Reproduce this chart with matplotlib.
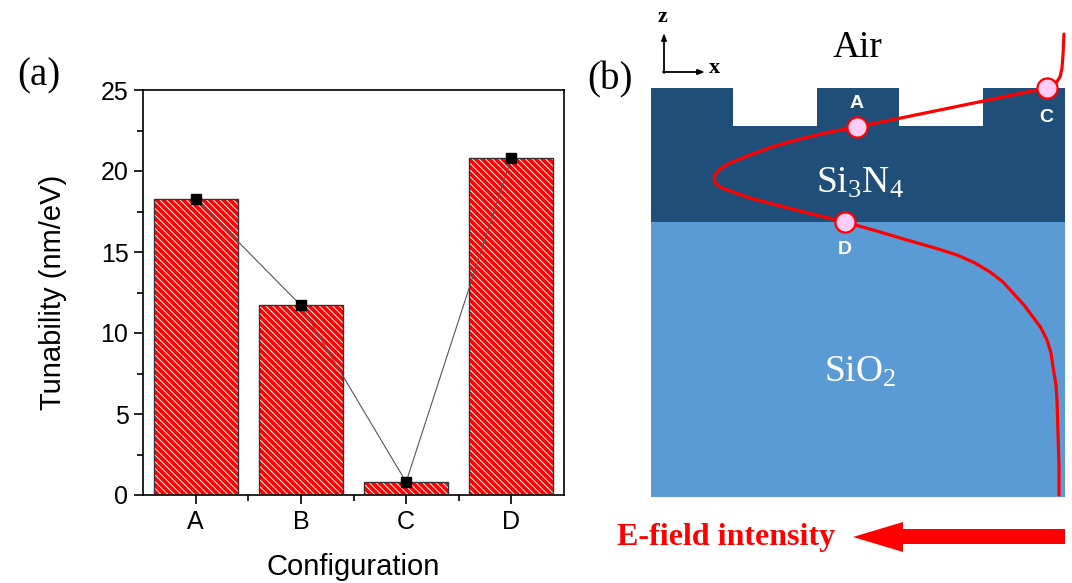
import matplotlib
matplotlib.use("Agg")
import matplotlib.pyplot as plt
from matplotlib.patches import Rectangle, Polygon

plt.rcParams["font.family"] = ["Liberation Sans", "DejaVu Sans"]
plt.rcParams["hatch.linewidth"] = 0.7
plt.rcParams["mathtext.fontset"] = "custom"
plt.rcParams["mathtext.rm"] = "Liberation Serif"
plt.rcParams["mathtext.it"] = "Liberation Serif:italic"
plt.rcParams["mathtext.bf"] = "Liberation Serif:bold"

# ---------------- data ----------------
categories = ["A", "B", "C", "D"]
tunability = [18.3, 11.7, 0.8, 20.8]

# E-field profile in panel (b) (schematic pixel units: x = intensity axis, z = depth)
field_x = [1064, 1063, 1062, 1060, 1056, 1047, 857, 830, 800, 775, 750, 730, 720, 715,
           714, 716, 722, 750, 800, 845, 880, 907, 935, 957, 975, 990, 1003, 1013,
           1024, 1033, 1041, 1047, 1051, 1053, 1056, 1057, 1058, 1059, 1059]
field_z = [34, 55, 68, 77, 83, 88, 127, 132, 139, 146, 155, 163, 169, 175,
           179, 184, 188, 198, 211, 222, 232, 240, 248, 255, 263, 272, 282, 293,
           305, 317, 328, 340, 353, 367, 385, 400, 433, 467, 495]
probe_labels = ["A", "C", "D"]
probe_x = [857, 1047, 845]
probe_z = [127, 88, 222]

W, H = 1072, 583
fig = plt.figure(figsize=(W / 100, H / 100), dpi=100)

# ---------------- panel (b) schematic ----------------
axb = fig.add_axes([0, 0, 1, 1])
axb.set_xlim(0, W)
axb.set_ylim(H, 0)
axb.axis("off")
axb.patch.set_alpha(0)

dark = "#1F4E79"
light = "#5B9BD5"
axb.add_patch(Rectangle((651, 222), 414, 275, facecolor=light, edgecolor="none"))
axb.add_patch(Rectangle((651, 88), 414, 134, facecolor=dark, edgecolor="none"))
for gx in (733, 899):
    axb.add_patch(Rectangle((gx, 87), 84, 39, facecolor="white", edgecolor="none"))

axb.plot(field_x, field_z, color="red", lw=2.3, solid_capstyle="round",
         solid_joinstyle="round", zorder=3)
axb.plot(probe_x, probe_z, ls="none", marker="o", ms=14.5, mfc="#FFCCF5",
         mec="red", mew=1.6, zorder=4)
lab_off = {"A": (0, -24), "C": (-1, 29), "D": (0, 28)}
for lab, px, pz in zip(probe_labels, probe_x, probe_z):
    dx, dz = lab_off[lab]
    axb.text(px + dx, pz + dz, lab, color="white", fontsize=14, fontweight="bold",
             ha="center", va="center", zorder=5)

serif = ["Liberation Serif", "DejaVu Serif"]
axb.text(858, 48, "Air", fontsize=27, family=serif, ha="center", va="center")
axb.text(860, 183, r"Si$_3$N$_4$", fontsize=27, family=serif, color="white",
         ha="center", va="center")
axb.text(860, 372, r"SiO$_2$", fontsize=27, family=serif, color="white",
         ha="center", va="center")

# coordinate arrows
axb.annotate("", xy=(664, 33), xytext=(664, 73),
             arrowprops=dict(arrowstyle="-|>,head_length=0.4,head_width=0.15",
                             color="black", lw=1.3, shrinkA=0, shrinkB=0))
axb.annotate("", xy=(705, 72), xytext=(663, 72),
             arrowprops=dict(arrowstyle="-|>,head_length=0.4,head_width=0.15",
                             color="black", lw=1.3, shrinkA=0, shrinkB=0))
axb.text(662, 17, "z", fontsize=16, family=serif, fontweight="bold", ha="center", va="center")
axb.text(714, 68, "x", fontsize=16, family=serif, fontweight="bold", ha="center", va="center")

# E-field arrow + label
axb.add_patch(Polygon([(1065, 529), (903, 529), (903, 522), (853, 537), (903, 552),
                       (903, 544), (1065, 544)], closed=True, facecolor="red",
                      edgecolor="none"))
axb.text(835, 537, "E-field intensity", fontsize=23, family=serif, fontweight="bold",
         color="red", ha="right", va="center")

fig.text(39 / W, 1 - 76 / H, "(a)", fontsize=28, family=serif, ha="center", va="center")
fig.text(610 / W, 1 - 80 / H, "(b)", fontsize=28, family=serif, ha="center", va="center")

# ---------------- panel (a) bar chart ----------------
ax = fig.add_axes([143 / W, 1 - 495 / H, (564 - 143) / W, (495 - 90) / H])
x = list(range(1, len(categories) + 1))
ax.bar(x, tunability, width=0.8, color="red", edgecolor="white",
       hatch="\\" * 5, linewidth=0, zorder=2)
ax.bar(x, tunability, width=0.8, fill=False, edgecolor="#333333", linewidth=1.0, zorder=3)
ax.plot(x, tunability, color="#555555", lw=0.8, marker="s", ms=6.5,
        mfc="black", mec="black", zorder=4)

ax.set_xlim(0.5, 4.5)
ax.set_ylim(0, 25)
ax.set_xticks(x)
ax.set_xticklabels(categories)
ax.set_xticks([1.5, 2.5, 3.5], minor=True)
ax.set_yticks([0, 5, 10, 15, 20, 25])
ax.set_yticks([2.5, 7.5, 12.5, 17.5, 22.5], minor=True)
ax.tick_params(which="both", direction="out", width=1.2, labelsize=18,
               top=False, right=False)
ax.tick_params(which="major", length=6.5, pad=4)
ax.tick_params(which="minor", length=4)
for s in ax.spines.values():
    s.set_linewidth(1.2)
ax.set_xlabel("Configuration", fontsize=21, labelpad=14)
ax.set_ylabel("Tunability (nm/eV)", fontsize=21, labelpad=24)

fig.savefig("out.png", dpi=100)
